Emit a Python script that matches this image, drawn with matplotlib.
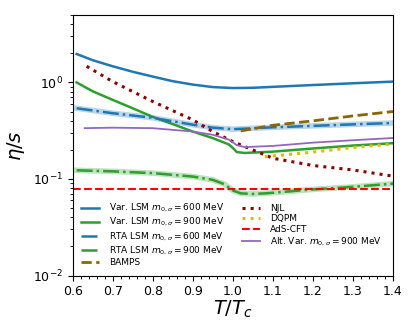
import numpy as np
import matplotlib
matplotlib.use("Agg")
import matplotlib.pyplot as plt
from matplotlib.ticker import MultipleLocator

# Var. LSM m0 = 600 MeV
t_var600 = [0.61, 0.65, 0.7, 0.75, 0.8, 0.85, 0.9, 0.95, 1.0, 1.05, 1.1, 1.2, 1.3, 1.4]
eta_var600 = [1.97, 1.70, 1.47, 1.29, 1.15, 1.03, 0.95, 0.895, 0.875, 0.88, 0.90, 0.94, 0.98, 1.02]

# Var. LSM m0 = 900 MeV
t_var900 = [0.61, 0.65, 0.7, 0.75, 0.8, 0.85, 0.9, 0.95, 0.99, 1.0, 1.01, 1.03, 1.1, 1.2, 1.3, 1.4]
eta_var900 = [1.0, 0.81, 0.66, 0.54, 0.44, 0.37, 0.31, 0.265, 0.228, 0.21, 0.19, 0.186, 0.192, 0.207, 0.222, 0.235]

# RTA LSM m0 = 600 MeV
t_rta600 = [0.61, 0.7, 0.8, 0.9, 0.95, 1.0, 1.05, 1.1, 1.2, 1.3, 1.4]
eta_rta600 = [0.54, 0.48, 0.43, 0.365, 0.34, 0.328, 0.335, 0.343, 0.355, 0.368, 0.38]

# RTA LSM m0 = 900 MeV
t_rta900 = [0.61, 0.7, 0.8, 0.9, 0.95, 0.98, 1.0, 1.02, 1.05, 1.08, 1.1, 1.2, 1.3, 1.4]
eta_rta900 = [0.123, 0.12, 0.115, 0.106, 0.098, 0.088, 0.076, 0.071, 0.070, 0.071, 0.072, 0.078, 0.083, 0.0895]

# BAMPS
t_bamps = [1.02, 1.1, 1.2, 1.3, 1.4]
eta_bamps = [0.315, 0.36, 0.40, 0.45, 0.50]

# NJL
t_njl = [0.635, 0.7, 0.8, 0.9, 0.95, 1.0, 1.05, 1.1, 1.2, 1.3, 1.4]
eta_njl = [1.47, 1.02, 0.635, 0.41, 0.31, 0.244, 0.2, 0.164, 0.138, 0.124, 0.107]

# DQPM
t_dqpm = [1.08, 1.2, 1.3, 1.4]
eta_dqpm = [0.17, 0.19, 0.212, 0.23]

# AdS-CFT bound
t_ads = [0.6, 1.4]
eta_ads = [1 / (4 * np.pi), 1 / (4 * np.pi)]

# Alt. Var. m0 = 900 MeV
t_alt = [0.63, 0.7, 0.8, 0.9, 0.95, 0.99, 1.01, 1.03, 1.1, 1.2, 1.3, 1.4]
eta_alt = [0.336, 0.34, 0.336, 0.31, 0.287, 0.256, 0.224, 0.214, 0.22, 0.238, 0.252, 0.266]

blue = "#1f77b4"
green = "#2ca02c"

fig, ax = plt.subplots(figsize=(4.15, 3.32), dpi=100)

ax.plot(t_var600, eta_var600, color=blue, lw=1.8, label=r"Var. LSM $m_{0,\sigma}=600$ MeV")
ax.plot(t_var900, eta_var900, color=green, lw=1.8, label=r"Var. LSM $m_{0,\sigma}=900$ MeV")
# light band behind the RTA curves
ax.plot(t_rta600, eta_rta600, color=blue, lw=4, alpha=0.3)
ax.plot(t_rta600, eta_rta600, color=blue, lw=1.8, ls="-.", label=r"RTA LSM $m_{0,\sigma}=600$ MeV")
ax.plot(t_rta900, eta_rta900, color=green, lw=4, alpha=0.3)
ax.plot(t_rta900, eta_rta900, color=green, lw=1.8, ls="-.", label=r"RTA LSM $m_{0,\sigma}=900$ MeV")
ax.plot(t_bamps, eta_bamps, color="#8b6508", lw=2, ls="--", label="BAMPS")
ax.plot(t_njl, eta_njl, color="#8b0000", lw=2.2, ls=":", label="NJL")
ax.plot(t_dqpm, eta_dqpm, color="#e6b800", lw=2.2, ls=":", label="DQPM")
ax.plot(t_ads, eta_ads, color="red", lw=1.5, ls="--", label="AdS-CFT")
ax.plot(t_alt, eta_alt, color="#9467bd", lw=1.3, label=r"Alt. Var. $m_{0,\sigma}=900$ MeV")

ax.set_yscale("log")
ax.set_xlim(0.6, 1.4)
ax.set_ylim(1e-2, 5)
ax.xaxis.set_minor_locator(MultipleLocator(0.02))
ax.tick_params(labelsize=9)
ax.set_xlabel(r"$T/T_c$", fontsize=14, labelpad=0)
ax.set_ylabel(r"$\eta/s$", fontsize=14)

ax.legend(loc="lower left", ncol=2, frameon=False, fontsize=6.5,
          handlelength=2.0, handletextpad=1.1, columnspacing=2.0, labelspacing=0.2,
          bbox_to_anchor=(0.0, 0.0))

fig.subplots_adjust(left=0.175, right=0.947, top=0.955, bottom=0.17)
fig.savefig("out.png", dpi=100)
